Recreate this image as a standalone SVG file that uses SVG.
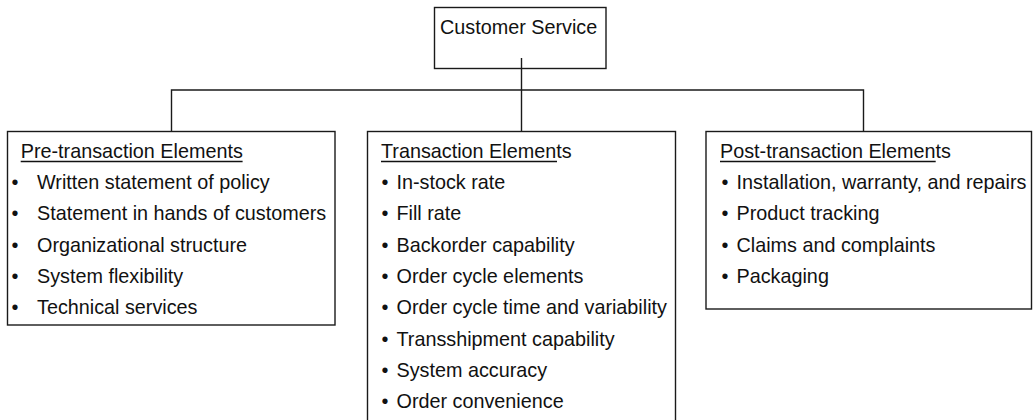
<svg xmlns="http://www.w3.org/2000/svg" width="1034" height="420" viewBox="0 0 1034 420">
<style>
.box{fill:#fff;stroke:#1a1a1a;stroke-width:1.4}
.ln{fill:none;stroke:#1a1a1a;stroke-width:1.4}
.ul{stroke:#111;stroke-width:1.4}
text{font-family:"Liberation Sans",Arial,Helvetica,sans-serif;font-size:19.8px;fill:#111}
</style>
<rect width="1034" height="420" fill="#fff"/>
<g id="connectors">
<path class="ln" d="M521.5,58 V131.5 M171.5,131.5 V90 H863.5 V131.5"/>
</g>
<g id="customer-service">
<rect class="box" x="434.5" y="7.5" width="171.5" height="61" style="fill:none"/>
<text x="440" y="33.5">Customer Service</text>
</g>
<g id="pre-transaction">
<rect class="box" x="7.5" y="131.5" width="327.5" height="193.5"/>
<text x="20.7" y="157.5">Pre-transaction Elements</text>
<line class="ul" x1="20.7" y1="161.5" x2="242.6" y2="161.5"/>
<text y="189"><tspan x="11.5">•</tspan><tspan x="37">Written statement of policy</tspan></text>
<text y="220.3"><tspan x="11.5">•</tspan><tspan x="37">Statement in hands of customers</tspan></text>
<text y="251.6"><tspan x="11.5">•</tspan><tspan x="37">Organizational structure</tspan></text>
<text y="282.9"><tspan x="11.5">•</tspan><tspan x="37">System flexibility</tspan></text>
<text y="314.2"><tspan x="11.5">•</tspan><tspan x="37">Technical services</tspan></text>
</g>
<g id="transaction">
<rect class="box" x="367.5" y="131.5" width="308" height="300"/>
<text x="381" y="157.5">Transaction Elements</text>
<line class="ul" x1="381" y1="161.5" x2="557" y2="161.5"/>
<text y="189"><tspan x="381.5">•</tspan><tspan x="396.5">In-stock rate</tspan></text>
<text y="220.3"><tspan x="381.5">•</tspan><tspan x="396.5">Fill rate</tspan></text>
<text y="251.6"><tspan x="381.5">•</tspan><tspan x="396.5">Backorder capability</tspan></text>
<text y="282.9"><tspan x="381.5">•</tspan><tspan x="396.5">Order cycle elements</tspan></text>
<text y="314.2"><tspan x="381.5">•</tspan><tspan x="396.5">Order cycle time and variability</tspan></text>
<text y="345.5"><tspan x="381.5">•</tspan><tspan x="396.5">Transshipment capability</tspan></text>
<text y="376.8"><tspan x="381.5">•</tspan><tspan x="396.5">System accuracy</tspan></text>
<text y="408.1"><tspan x="381.5">•</tspan><tspan x="396.5">Order convenience</tspan></text>
</g>
<g id="post-transaction">
<rect class="box" x="706" y="131.5" width="325.5" height="177.5"/>
<text x="720" y="157.5">Post-transaction Elements</text>
<line class="ul" x1="720" y1="161.5" x2="935.7" y2="161.5"/>
<text y="189"><tspan x="721.5">•</tspan><tspan x="736.5">Installation, warranty, and repairs</tspan></text>
<text y="220.3"><tspan x="721.5">•</tspan><tspan x="736.5">Product tracking</tspan></text>
<text y="251.6"><tspan x="721.5">•</tspan><tspan x="736.5">Claims and complaints</tspan></text>
<text y="282.9"><tspan x="721.5">•</tspan><tspan x="736.5">Packaging</tspan></text>
</g>
</svg>
